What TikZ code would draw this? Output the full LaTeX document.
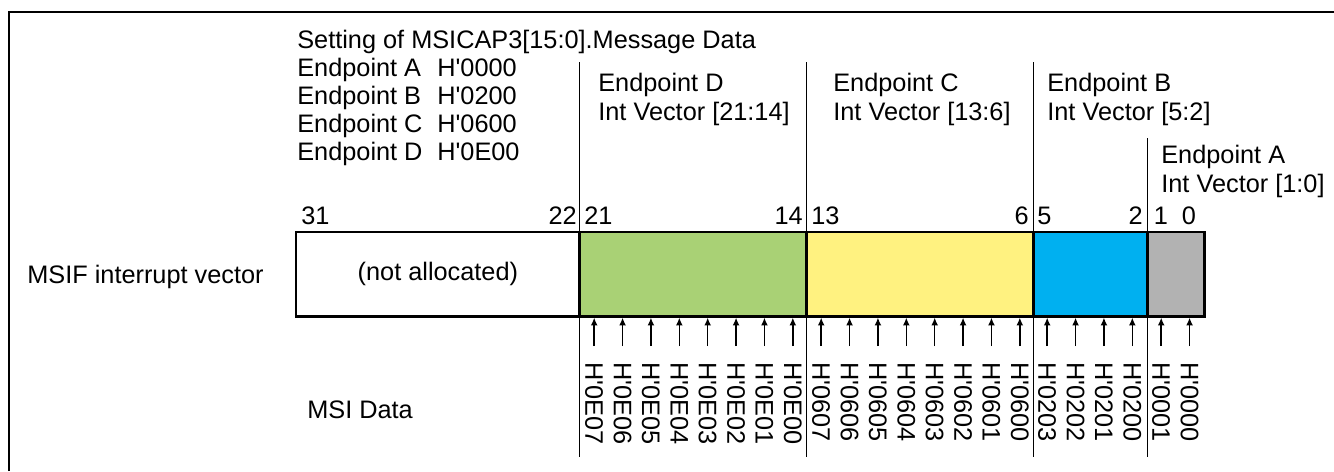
\documentclass[tikz,border=0pt]{standalone}
\usepackage{fontspec}
\setmainfont{Liberation Sans}
\usetikzlibrary{arrows.meta,positioning}
\newcommand{\hx}{H\textquotesingle}

\begin{document}
\begin{tikzpicture}[x=0.2mm, y=-0.2mm, font=\fontsize{14.4}{16}\selectfont]
  % Stili
  \tikzset{
    feld/.style={draw, line width=1.7pt, minimum height=16.8mm, inner sep=0pt, outer sep=0pt},
    txt/.style={inner sep=0pt, anchor=base west},
    teil/.style={line width=0.8pt},
    msi/.style={inner sep=0pt, rotate=-90, anchor=west},
    pfeil/.style={line width=0.9pt, -{Latex[length=4.5pt, width=4pt]}, shorten >=0.9pt}
  }
  \useasboundingbox (0,0) rectangle (1334,471);

  % Rahmen
  \draw[line width=1.7pt] (9,471) -- (9,12) -- (1334,12);

  % Registerfelder
  \node[feld, anchor=north west, minimum width=56.75mm] (na) at (296,232) {(not allocated)};
  \node[feld, fill={rgb,255:red,169;green,209;blue,117}, minimum width=45.4mm, right=0pt of na] (feldD) {};
  \node[feld, fill={rgb,255:red,255;green,242;blue,128}, minimum width=45.4mm, right=0pt of feldD] (feldC) {};
  \node[feld, fill={rgb,255:red,0;green,176;blue,240}, minimum width=22.7mm, right=0pt of feldC] (feldB) {};
  \node[feld, fill={rgb,255:red,178;green,178;blue,178}, minimum width=11.35mm, right=0pt of feldB] (feldA) {};

  % Hilfslinien
  \coordinate (oben) at (0,62);
  \coordinate (obenA) at (0,138);
  \coordinate (unten) at (0,457);
  \foreach \f in {feldD, feldC, feldB}
    \draw[teil] (\f.north west |- oben) -- (\f.south west |- unten);
  \draw[teil] (feldA.north west |- obenA) -- (feldA.south west |- unten);

  % Texte
  \node[txt] (titel) at (297,48) {Setting of MSICAP3[15:0].Message Data};
  \foreach \n/\h [count=\i from 0] in {A/0000, B/0200, C/0600, D/0E00} {
    \node[txt] (e\n) at (297,76+28*\i) {Endpoint \n};
    \node[txt] (h\n) at (437,76+28*\i) {\hx\h};
  }
  \node[txt] (tD1) at (598,91) {Endpoint D};
  \node[txt] (tD2) at (598,120) {Int Vector [21:14]};
  \node[txt] (tC1) at (833,91) {Endpoint C};
  \node[txt] (tC2) at (833,120) {Int Vector [13:6]};
  \node[txt] (tB1) at (1047,91) {Endpoint B};
  \node[txt] (tB2) at (1047,120) {Int Vector [5:2]};
  \node[txt] (tA1) at (1161,163) {Endpoint A};
  \node[txt] (tA2) at (1161,192) {Int Vector [1:0]};
  \node[txt] (msif) at (27,283) {MSIF interrupt vector};
  \node[txt] (msid) at (307,418) {MSI Data};

  % Bitnummern
  \node[txt] (b31) at (301,224) {31};
  \node[inner sep=0pt, anchor=base east] (b22) at (577,224) {22};
  \node[txt] (b21) at (584,224) {21};
  \node[inner sep=0pt, anchor=base east] (b14) at (803,224) {14};
  \node[txt] (b13) at (811,224) {13};
  \node[inner sep=0pt, anchor=base east] (b6) at (1029,224) {6};
  \node[txt] (b5) at (1037,224) {5};
  \node[inner sep=0pt, anchor=base east] (b2) at (1143,224) {2};
  \node[inner sep=0pt, anchor=base] (b1) at (1161,224) {1};
  \node[inner sep=0pt, anchor=base] (b0) at (1189,224) {0};

  % MSI-Daten mit Pfeilen
  \foreach \f/\s/\liste in {feldD/580/{0E07,0E06,0E05,0E04,0E03,0E02,0E01,0E00},
                            feldC/807/{0607,0606,0605,0604,0603,0602,0601,0600},
                            feldB/1033/{0203,0202,0201,0200},
                            feldA/1147/{0001,0000}} {
    \foreach \v [count=\i] in \liste {
      \node[msi] (\f-\i) at ({\s+(\i-0.5)*28.375},362) {\hx\v};
      \draw[pfeil] ([yshift=3.2mm]\f-\i.west) -- (\f-\i.west |- \f.south);
    }
  }
\end{tikzpicture}
\end{document}
